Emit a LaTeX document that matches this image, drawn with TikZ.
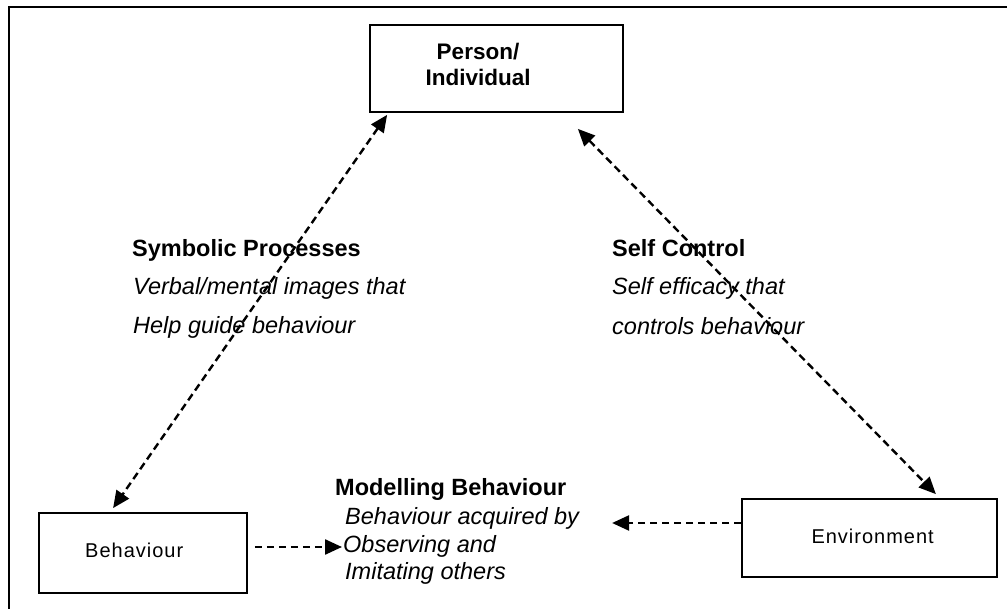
\documentclass[tikz,border=0pt]{standalone}
\usepackage{fontspec}
\setmainfont{Liberation Sans}
\newfontfamily\spacedfont[LetterSpace=5]{Liberation Sans}
\usetikzlibrary{arrows.meta}
\begin{document}
\begin{tikzpicture}[x=1pt,y=-1pt,
  frameline/.style={line width=2.5pt, line cap=rect},
  entity/.style={draw, line width=1.8pt, inner sep=0pt},
  head/.style={font=\fontsize{23.5}{28}\selectfont\bfseries, inner sep=0pt, anchor=base west},
  note/.style={font=\fontsize{23.5}{28}\selectfont\itshape, inner sep=0pt, anchor=base west},
  boxlabel/.style={font=\fontsize{20}{23}\selectfont\spacedfont, inner sep=0pt},
  tip/.tip={Triangle[length=17pt,width=15pt]},
  link/.style={line width=2.4pt, dash pattern=on 7.5pt off 4.5pt, -tip},
  twoway/.style={line width=2.4pt, dash pattern=on 7.5pt off 4.5pt, tip-tip}
]
\useasboundingbox (0,0) rectangle (1007,609);

% open frame (top and left sides)
\draw[frameline] (9,609) -- (9,7) -- (1007,7);

% the three entities
\node[entity, minimum width=253pt, minimum height=87pt] (person) at (496.5,68.5) {};
\node[font=\fontsize{22.5}{26}\selectfont\bfseries, align=center, inner sep=0pt] (personlbl) at (478,64) {Person/\\Individual};

\node[entity, minimum width=208pt, minimum height=80pt] (behbox) at (143,553) {};
\node[boxlabel, anchor=base west] (behlbl) at (85,557) {Behaviour};

\node[entity, minimum width=255pt, minimum height=78pt] (envbox) at (869.5,538) {};
\node[boxlabel, anchor=base east] (envlbl) at (934,543) {Environment};

% symbolic processes
\node[head] (sp1) at (132,257) {Symbolic Processes};
\node[note] (sp2) at (133,295) {Verbal/mental images that};
\node[note] (sp3) at (133,334) {Help guide behaviour};

% self control
\node[head] (sc1) at (612,257) {Self Control};
\node[note] (sc2) at (612,295) {Self efficacy that};
\node[note] (sc3) at (612,335) {controls behaviour};

% modelling behaviour
\node[head] (mb1) at (335,496) {Modelling Behaviour};
\node[note] (mb2) at (345,524) {Behaviour acquired by};
\node[note] (mb3) at (343,552) {Observing and};
\node[note] (mb4) at (345,579) {Imitating others};

% connector ends
\coordinate (pl) at ([xshift=18pt,yshift=-2pt]person.south west);
\coordinate (bt) at ([xshift=75pt,yshift=4pt]behbox.north west);
\coordinate (pr) at ([xshift=-46pt,yshift=-16pt]person.south east);
\coordinate (et) at ([xshift=-62pt,yshift=4pt]envbox.north east);
\coordinate (ew) at ([yshift=15pt]envbox.west);
\coordinate (ewtip) at ([xshift=-129pt,yshift=15pt]envbox.west);
\coordinate (be) at ([xshift=7pt,yshift=6pt]behbox.east);
\coordinate (betip) at ([xshift=-1pt,yshift=5pt]mb3.base west);

\draw[twoway] (pl) -- (bt);
\draw[twoway] (pr) -- (et);
\draw[link] (ew) -- (ewtip);
\draw[link] (be) -- (betip);
\end{tikzpicture}
\end{document}
